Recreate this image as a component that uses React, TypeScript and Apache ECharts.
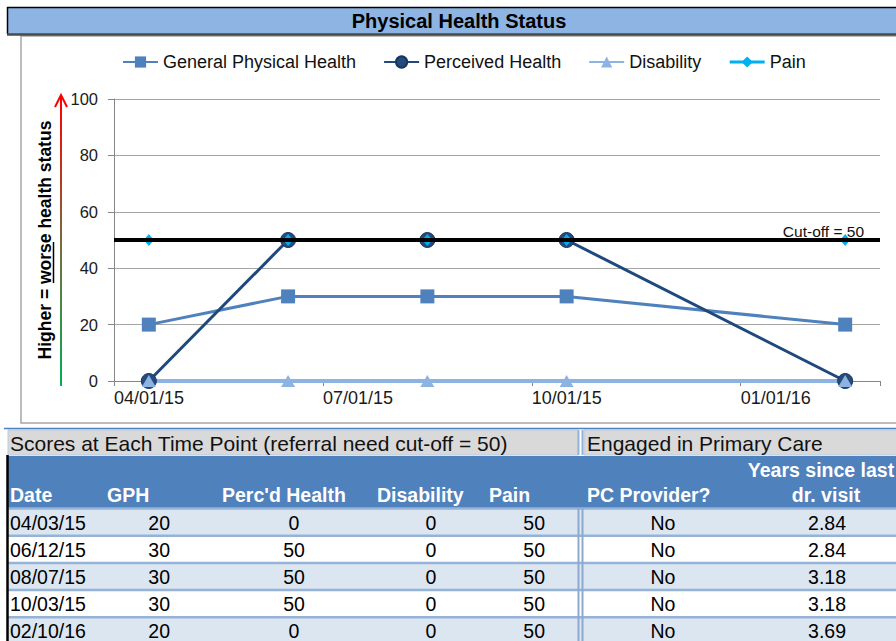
import React, { useEffect, useRef } from 'react';
import * as echarts from 'echarts';

// ---- data ----
const dates = ['04/03/15', '06/12/15', '08/07/15', '10/03/15', '02/10/16'];
const gph = [20, 30, 30, 30, 20];
const perceived = [0, 50, 50, 50, 0];
const disability = [0, 0, 0, 0, 0];
const pain = [50, 50, 50, 50, 50];
const pcProvider = ['No', 'No', 'No', 'No', 'No'];
const yearsSince = ['2.84', '2.84', '3.18', '3.18', '3.69'];
const cutoff = 50;
const xTickLabels = ['04/01/15', '07/01/15', '10/01/15', '01/01/16'];
const yTicks = [0, 20, 40, 60, 80, 100];

const FONT = "'Liberation Sans', Arial, Helvetica, sans-serif";

// month slot on the Excel-style date axis (base unit = months, starting April 2015)
function monthSlot(d: string): number {
  const [mm, , yy] = d.split('/').map(Number);
  return (yy - 15) * 12 + (mm - 4) + 0.5;
}

function pts(vals: number[]) {
  return dates.map((d, i) => [monthSlot(d), vals[i]]);
}

function txt(x: number, y: number, text: string, o: any = {}) {
  const align = o.align || 'left';
  return {
    type: 'text',
    x,
    y,
    z: 20,
    silent: true,
    rotation: o.rotation || 0,
    style: {
      text,
      fontFamily: FONT,
      fontSize: o.size || 19,
      fontWeight: o.bold ? 'bold' : 'normal',
      fill: o.fill || '#000',
      align,
      textAlign: align,
      verticalAlign: 'middle',
      textVerticalAlign: 'middle',
      rich: o.rich,
    },
  };
}

function rect(x: number, y: number, w: number, h: number, style: any, z = 5) {
  return { type: 'rect', z, silent: true, shape: { x, y, width: w, height: h }, style };
}

function line(x1: number, y1: number, x2: number, y2: number, stroke: any, lineWidth: number, z = 6) {
  return { type: 'line', z, silent: true, shape: { x1, y1, x2, y2 }, style: { stroke, lineWidth } };
}

function buildGraphics() {
  const g: any[] = [];
  // title bar
  g.push(rect(7, 7, 895, 27, { fill: '#8DB4E2' }));
  g.push(line(7, 7.5, 896, 7.5, '#000', 1.5));
  g.push(line(7.5, 7, 7.5, 34, '#000', 1.5));
  g.push(line(7, 34.5, 896, 34.5, '#4a4a4a', 2.5));
  g.push(txt(459, 21, 'Physical Health Status', { bold: true, size: 20, align: 'center' }));

  // chart box
  g.push({ type: 'rect', z: 1, silent: true, shape: { x: 21, y: 36, width: 885, height: 387 }, style: { fill: 'none', stroke: '#A6A6A6', lineWidth: 1.5 } });

  // y-axis title (rotated) with underline on "worse"
  const yt: any = txt(45, 240, '{a|Higher = }{a|worse}{a| health status}', {
    rotation: Math.PI / 2,
    align: 'center',
    size: 17.5,
    bold: true,
  });
  yt.style.rich = { a: { fontFamily: FONT, fontSize: 17.5, fontWeight: 'bold', fill: '#000' } };
  g.push(yt);
  g.push(line(53.5, 242, 53.5, 283, '#000', 1.5));

  // gradient arrow
  g.push(
    line(61, 386, 61, 97, {
      type: 'linear', x: 0, y: 386, x2: 0, y2: 97, global: true,
      colorStops: [
        { offset: 0, color: '#00B050' },
        { offset: 0.5, color: '#7A6A3A' },
        { offset: 1, color: '#FF0000' },
      ],
    }, 2)
  );
  g.push({ type: 'polyline', z: 6, silent: true, shape: { points: [[55, 107], [61, 95], [67, 107]] }, style: { stroke: '#FF0000', lineWidth: 2, fill: 'none' } });

  // ---- table ----
  g.push(line(4, 428.5, 896, 428.5, '#4F81BD', 1.5));
  g.push(rect(8, 430, 570, 25, { fill: '#D9D9D9', stroke: '#B8CCE4', lineWidth: 1 }));
  g.push(rect(584, 430, 320, 25, { fill: '#D9D9D9', stroke: '#B8CCE4', lineWidth: 1 }));
  g.push(txt(10, 443, 'Scores at Each Time Point (referral need cut-off = 50)', { size: 21, fill: '#111' }));
  g.push(txt(587, 443, 'Engaged in Primary Care', { size: 21, fill: '#111' }));

  g.push(rect(8, 456, 890, 52, { fill: '#4F81BD' }));
  const hy = 495;
  const hdr = { bold: true, size: 19.5, fill: '#fff' };
  g.push(txt(10, hy, 'Date', hdr));
  g.push(txt(107, hy, 'GPH', hdr));
  g.push(txt(222, hy, "Perc'd Health", hdr));
  g.push(txt(377, hy, 'Disability', hdr));
  g.push(txt(489, hy, 'Pain', hdr));
  g.push(txt(587, hy, 'PC Provider?', hdr));
  g.push(txt(821, 470, 'Years since last', { ...hdr, align: 'center' }));
  g.push(txt(826, hy, 'dr. visit', { ...hdr, align: 'center' }));

  const rowTop = 508;
  const rowH = 27.2;
  dates.forEach((d, i) => {
    const top = rowTop + i * rowH;
    const cy = top + rowH / 2 + 1;
    g.push(rect(8, top, 890, rowH, { fill: i % 2 === 0 ? '#DCE6F1' : '#FFFFFF' }, 4));
    g.push(line(8, top + 0.5, 896, top + 0.5, '#95B3D7', 2.5, 7));
    const o = { size: 19.5, fill: '#000' };
    g.push(txt(10, cy, d, o));
    g.push(txt(170, cy, String(gph[i]), { ...o, align: 'right' }));
    g.push(txt(294, cy, String(perceived[i]), { ...o, align: 'center' }));
    g.push(txt(431, cy, String(disability[i]), { ...o, align: 'center' }));
    g.push(txt(545, cy, String(pain[i]), { ...o, align: 'right' }));
    g.push(txt(663, cy, pcProvider[i], { ...o, align: 'center' }));
    g.push(txt(827, cy, yearsSince[i], { ...o, align: 'center' }));
  });
  // double vertical separator
  g.push(line(578.5, 430, 578.5, 455, '#95B3D7', 2, 8));
  g.push(line(582.5, 430, 582.5, 455, '#95B3D7', 2, 8));
  g.push(line(578.5, 508, 578.5, 641, '#8DA9CF', 2, 8));
  g.push(line(582.5, 508, 582.5, 641, '#8DA9CF', 2, 8));
  // left black border of table
  g.push(line(7.5, 455, 7.5, 641, '#000', 2.5, 9));
  return g;
}

export default function App() {
  const ref = useRef<HTMLDivElement>(null);
  useEffect(() => {
    if (!ref.current) return;
    const chart = echarts.init(ref.current, undefined, { renderer: 'svg' });
    const legendText = { fontFamily: FONT, fontSize: 18, color: '#111' };
    chart.setOption({
      animation: false,
      backgroundColor: '#fff',
      textStyle: { fontFamily: FONT },
      grid: { left: 114, right: 16, top: 99, bottom: 260, containLabel: false },
      legend: {
        left: 122,
        top: 53,
        padding: 0,
        itemWidth: 35,
        itemHeight: 14,
        itemGap: 27,
        textStyle: legendText,
        data: [
          { name: 'General Physical Health' },
          { name: 'Perceived Health' },
          { name: 'Disability' },
          { name: 'Pain', lineStyle: { opacity: 1, color: '#00B0F0', width: 3 } },
        ],
      },
      xAxis: {
        type: 'value',
        min: 0,
        max: 11,
        interval: 3,
        axisLine: { show: true, lineStyle: { color: '#868686', width: 1 } },
        axisTick: { show: true, length: 5, lineStyle: { color: '#868686' } },
        splitLine: { show: false },
        axisLabel: {
          margin: 8,
          align: 'left',
          fontFamily: FONT,
          fontSize: 18,
          color: '#1a1a1a',
          formatter: (v: number) => (v % 3 === 0 ? xTickLabels[v / 3] || '' : ''),
        },
      },
      yAxis: {
        type: 'value',
        min: yTicks[0],
        max: yTicks[yTicks.length - 1],
        interval: yTicks[1] - yTicks[0],
        axisLine: { show: true, lineStyle: { color: '#868686', width: 1 } },
        axisTick: { show: true, length: 6, lineStyle: { color: '#868686' } },
        splitLine: { show: true, lineStyle: { color: '#A6A6A6', width: 1 } },
        axisLabel: { margin: 16, fontFamily: FONT, fontSize: 16.5, color: '#1a1a1a' },
      },
      graphic: buildGraphics(),
      series: [
        {
          name: 'General Physical Health',
          type: 'line',
          data: pts(gph),
          symbol: 'rect',
          symbolSize: 14,
          itemStyle: { color: '#4F81BD' },
          lineStyle: { color: '#4F81BD', width: 3 },
          z: 3,
        },
        {
          name: 'Perceived Health',
          type: 'line',
          data: pts(perceived),
          symbol: 'circle',
          symbolSize: 15,
          itemStyle: { color: '#254A7C', borderColor: '#17375E', borderWidth: 1 },
          lineStyle: { color: '#1F497D', width: 3 },
          z: 3,
        },
        {
          name: 'Disability',
          type: 'line',
          data: pts(disability),
          symbol: 'triangle',
          symbolSize: [14, 12],
          itemStyle: { color: '#8DB3E2' },
          lineStyle: { color: '#8DB3E2', width: 4 },
          z: 3,
        },
        {
          name: 'Cut-off',
          type: 'line',
          data: [],
          z: 3,
          markLine: {
            silent: true,
            symbol: 'none',
            lineStyle: { color: '#000', width: 4, type: 'solid' },
            label: {
              show: true,
              position: 'insideEndTop',
              formatter: 'Cut-off = ' + cutoff,
              fontFamily: FONT,
              fontSize: 15.5,
              color: '#111',
              distance: [16, 1],
            },
            data: [{ yAxis: cutoff }],
          },
        },
        {
          name: 'Pain',
          type: 'line',
          data: pts(pain),
          symbol: 'diamond',
          symbolSize: [10, 12],
          itemStyle: { color: '#00B0F0' },
          lineStyle: { color: '#00B0F0', width: 3, opacity: 0 },
          z: 3,
        },
      ],
    });
    return () => chart.dispose();
  }, []);
  return (
    <div
      ref={ref}
      style={{ position: 'fixed', left: 0, top: 0, width: 896, height: 641, background: '#fff' }}
    />
  );
}
